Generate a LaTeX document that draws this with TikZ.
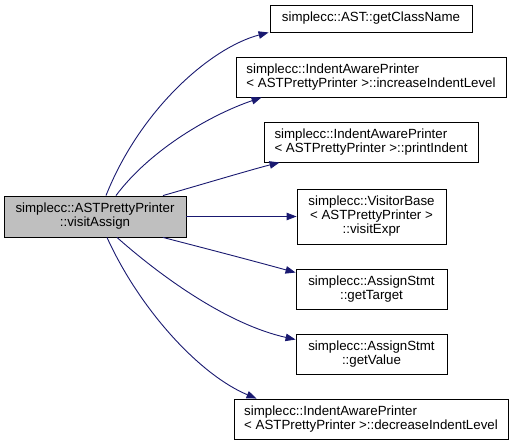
\documentclass[tikz,border=0pt]{standalone}
\usepackage{fontspec}
\setmainfont{Liberation Sans}
\usetikzlibrary{arrows.meta}
\definecolor{edgeblue}{HTML}{191970}
\definecolor{srcfill}{HTML}{BFBFBF}

\begin{document}
\begin{tikzpicture}[
  x=1pt, y=-1pt,
  font=\fontsize{13.3}{14}\selectfont,
  fnbox/.style={draw=black, line width=0.9pt, inner sep=0pt, align=center},
  fnleft/.style={fnbox, align=left},
  srcbox/.style={fnbox, fill=srcfill},
  call/.style={draw=edgeblue, line width=0.9pt,
               -{Triangle[length=10pt, width=7.5pt, fill=edgeblue]}},
]
\useasboundingbox (0,0) rectangle (513,446);

\node[srcbox, minimum width=182pt, minimum height=41pt] (visit) at (95,216.5)
  {simplecc::ASTPrettyPrinter\\::visitAssign};

\node[fnbox, minimum width=202pt, minimum height=27pt] (clsname) at (371,18.5)
  {simplecc::AST::getClassName};
\node[fnleft, minimum width=270pt, minimum height=40pt] (incr) at (371,77)
  {simplecc::IndentAwarePrinter\\< ASTPrettyPrinter >::increaseIndentLevel};
\node[fnleft, minimum width=214pt, minimum height=40pt] (pindent) at (371,142)
  {simplecc::IndentAwarePrinter\\< ASTPrettyPrinter >::printIndent};
\node[fnbox, minimum width=149pt, minimum height=55pt] (vexpr) at (371.5,216.5)
  {simplecc::VisitorBase\\< ASTPrettyPrinter >\\::visitExpr};
\node[fnbox, minimum width=151pt, minimum height=40pt] (gtarget) at (371.5,289)
  {simplecc::AssignStmt\\::getTarget};
\node[fnbox, minimum width=151pt, minimum height=40pt] (gvalue) at (371.5,354)
  {simplecc::AssignStmt\\::getValue};
\node[fnleft, minimum width=274pt, minimum height=40pt] (decr) at (371,419)
  {simplecc::IndentAwarePrinter\\< ASTPrettyPrinter >::decreaseIndentLevel};

% calls leaving the top of visitAssign
\draw[call] ([xshift=11pt]visit.north) .. controls (140,110) and (210,48) .. ([xshift=-1pt]clsname.south west);
\draw[call] ([xshift=21pt]visit.north) .. controls (150,150) and (210,115) .. ([xshift=26pt]incr.south west);
\draw[call] ([xshift=68pt]visit.north) .. controls (200,185) and (250,170) .. ([xshift=16pt]pindent.south west);
% straight call
\draw[call] (visit.east) -- (vexpr.west);
% calls leaving the bottom
\draw[call] ([xshift=68pt]visit.south) .. controls (200,247) and (250,260) .. ([yshift=-4pt]gtarget.north west);
\draw[call] ([xshift=22pt]visit.south) .. controls (165,280) and (230,325) .. ([yshift=-6pt]gvalue.north west);
\draw[call] ([xshift=12pt]visit.south) .. controls (140,310) and (200,375) .. ([xshift=23pt]decr.north west);

\end{tikzpicture}
\end{document}
